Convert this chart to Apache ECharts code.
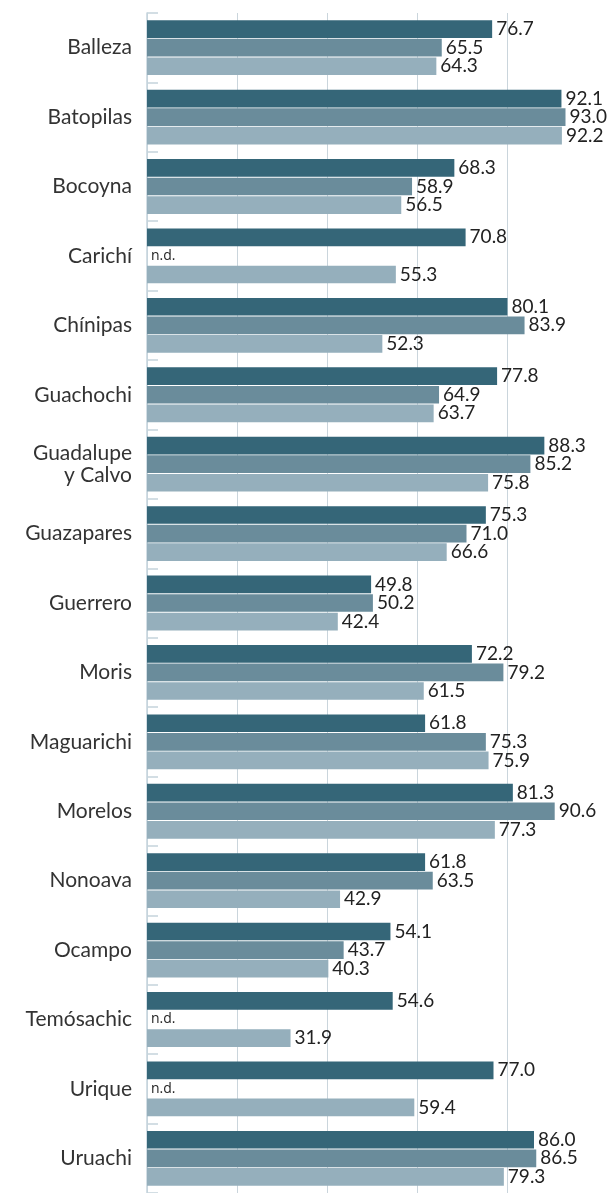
<!DOCTYPE html>
<html>
<head>
<meta charset="utf-8">
<script src="https://cdn.jsdelivr.net/npm/echarts@6/dist/echarts.min.js"></script>
<style>
  html, body { margin: 0; padding: 0; background: #fff; }
  #chart { width: 610px; height: 1193px; }
</style>
</head>
<body>
<div id="chart"></div>
<script>
const categories = ['Balleza','Batopilas','Bocoyna','Carichí','Chínipas','Guachochi','Guadalupe\ny Calvo','Guazapares','Guerrero','Moris','Maguarichi','Morelos','Nonoava','Ocampo','Temósachic','Urique','Uruachi'];
const series1 = [76.7, 92.1, 68.3, 70.8, 80.1, 77.8, 88.3, 75.3, 49.8, 72.2, 61.8, 81.3, 61.8, 54.1, 54.6, 77.0, 86.0];
const series2 = [65.5, 93.0, 58.9, null, 83.9, 64.9, 85.2, 71.0, 50.2, 79.2, 75.3, 90.6, 63.5, 43.7, null, null, 86.5];
const series3 = [64.3, 92.2, 56.5, 55.3, 52.3, 63.7, 75.8, 66.6, 42.4, 61.5, 75.9, 77.3, 42.9, 40.3, 31.9, 59.4, 79.3];
const xTicks = [0, 20, 40, 60, 80, 100];

const colors = ['#356678', '#6a8c9b', '#95afbc'];
const gridColor = '#cad5dc';

function toData(arr) {
  return arr.map(v => v === null
    ? { value: 0, label: { formatter: 'n.d.', fontSize: 14, fontFamily: 'Open Sans', distance: 4 } }
    : v);
}

function makeSeries(arr, i) {
  return {
    type: 'bar',
    data: toData(arr),
    barCategoryGap: '21%',
    barGap: '5%',
    itemStyle: { color: colors[i] },
    label: {
      show: true,
      position: 'right',
      distance: 4,
      color: '#222',
      fontSize: 19,
      fontFamily: 'Lato',
      formatter: p => (typeof p.value === 'number' ? p.value.toFixed(1) : p.value)
    },
    emphasis: { disabled: true },
    animation: false
  };
}

const chart = echarts.init(document.getElementById('chart'));
chart.setOption({
  animation: false,
  grid: { left: 147, right: 13, top: 13, bottom: -1.5, containLabel: false },
  xAxis: {
    type: 'value',
    min: xTicks[0],
    max: xTicks[xTicks.length - 1],
    interval: 20,
    axisLine: { show: false },
    axisTick: { show: false },
    axisLabel: { show: false },
    splitLine: {
      show: true,
      lineStyle: { color: [gridColor, gridColor, gridColor, gridColor, gridColor, 'rgba(0,0,0,0)'], width: 1 }
    }
  },
  yAxis: {
    type: 'category',
    inverse: true,
    data: categories,
    axisLine: { show: true, lineStyle: { color: '#c5d3dc', width: 1.5 } },
    axisTick: { show: true, inside: true, length: 11, lineStyle: { color: '#c5d3dc', width: 1.5 } },
    axisLabel: {
      margin: 15,
      fontSize: 21,
      lineHeight: 22,
      color: '#333',
      fontFamily: 'Lato',
      align: 'right'
    },
    splitLine: { show: false }
  },
  series: [makeSeries(series1, 0), makeSeries(series2, 1), makeSeries(series3, 2)]
});
</script>
</body>
</html>
